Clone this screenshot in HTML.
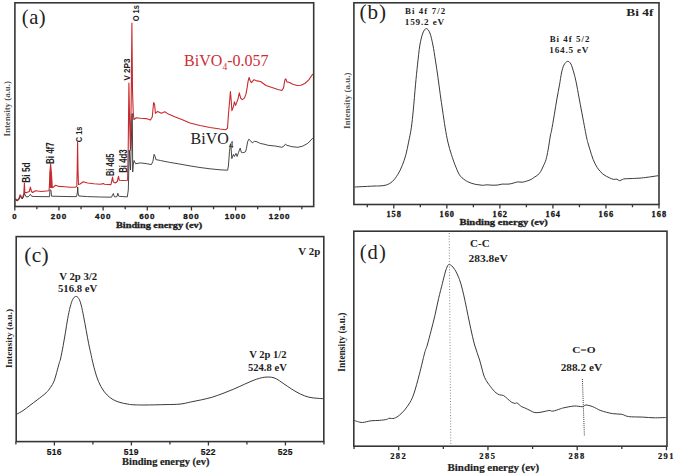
<!DOCTYPE html>
<html><head><meta charset="utf-8"><style>
html,body{margin:0;padding:0;background:#fff;width:675px;height:476px;overflow:hidden}
svg{display:block}
</style></head><body>
<svg width="675" height="476" viewBox="0 0 675 476">
<rect width="675" height="476" fill="#fff"/>
<rect x="14.9" y="2.8" width="298.8" height="203.7" fill="none" stroke="#363636" stroke-width="1.6"/>
<rect x="353.9" y="2.8" width="305.1" height="201.7" fill="none" stroke="#363636" stroke-width="1.6"/>
<rect x="16.2" y="236.6" width="307.6" height="205.00000000000003" fill="none" stroke="#363636" stroke-width="1.6"/>
<rect x="353.8" y="231.2" width="313.2" height="215.0" fill="none" stroke="#363636" stroke-width="1.6"/>
<path d="M14.80,206.5 v4.0 M58.96,206.5 v4.0 M103.12,206.5 v4.0 M147.28,206.5 v4.0 M191.44,206.5 v4.0 M235.60,206.5 v4.0 M279.76,206.5 v4.0 M36.88,206.5 v2.8 M81.04,206.5 v2.8 M125.20,206.5 v2.8 M169.36,206.5 v2.8 M213.52,206.5 v2.8 M257.68,206.5 v2.8 M301.84,206.5 v2.8 " stroke="#363636" stroke-width="1.3" fill="none"/>
<path d="M393.80,204.5 v4.0 M446.84,204.5 v4.0 M499.88,204.5 v4.0 M552.92,204.5 v4.0 M605.96,204.5 v4.0 M659.00,204.5 v4.0 M367.28,204.5 v2.8 M420.32,204.5 v2.8 M473.36,204.5 v2.8 M526.40,204.5 v2.8 M579.44,204.5 v2.8 M632.48,204.5 v2.8 " stroke="#363636" stroke-width="1.3" fill="none"/>
<path d="M54.40,441.6 v4.0 M131.41,441.6 v4.0 M208.42,441.6 v4.0 M285.43,441.6 v4.0 M15.89,441.6 v2.8 M92.91,441.6 v2.8 M169.92,441.6 v2.8 M246.93,441.6 v2.8 M323.94,441.6 v2.8 " stroke="#363636" stroke-width="1.3" fill="none"/>
<path d="M398.70,446.2 v4.0 M487.95,446.2 v4.0 M577.20,446.2 v4.0 M666.45,446.2 v4.0 M354.07,446.2 v2.8 M443.32,446.2 v2.8 M532.58,446.2 v2.8 M621.83,446.2 v2.8 " stroke="#363636" stroke-width="1.3" fill="none"/>
<path d="M354.50,187.00 C356.25,186.92 361.58,186.67 365.00,186.50 C368.42,186.33 372.50,186.10 375.00,186.00 C377.50,185.90 378.12,186.07 380.00,185.90 C381.88,185.73 384.22,185.75 386.30,185.00 C388.38,184.25 390.57,183.18 392.50,181.40 C394.43,179.62 396.27,176.97 397.90,174.30 C399.53,171.63 400.97,168.68 402.30,165.40 C403.63,162.12 404.85,158.48 405.90,154.60 C406.95,150.72 407.70,146.55 408.60,142.10 C409.50,137.65 410.52,133.25 411.30,127.90 C412.08,122.55 412.60,117.18 413.30,110.00 C414.00,102.82 414.80,92.32 415.50,84.80 C416.20,77.28 416.77,71.53 417.50,64.90 C418.23,58.27 419.00,50.32 419.90,45.00 C420.80,39.68 421.83,35.73 422.90,33.00 C423.97,30.27 425.13,28.60 426.30,28.60 C427.47,28.60 428.80,30.27 429.90,33.00 C431.00,35.73 431.97,40.35 432.90,45.00 C433.83,49.65 434.67,55.58 435.50,60.90 C436.33,66.22 437.10,71.25 437.90,76.90 C438.70,82.55 439.53,89.28 440.30,94.80 C441.07,100.32 441.68,104.48 442.50,110.00 C443.32,115.52 444.30,122.55 445.20,127.90 C446.10,133.25 446.87,137.65 447.90,142.10 C448.93,146.55 450.07,150.43 451.40,154.60 C452.73,158.77 454.40,163.52 455.90,167.10 C457.40,170.68 458.47,173.68 460.40,176.10 C462.33,178.52 465.17,180.27 467.50,181.60 C469.83,182.93 472.50,183.57 474.40,184.10 C476.30,184.63 477.42,184.60 478.90,184.80 C480.38,185.00 482.00,185.30 483.30,185.30 C484.60,185.30 485.22,184.82 486.70,184.80 C488.18,184.78 490.35,185.17 492.20,185.20 C494.05,185.23 496.13,185.18 497.80,185.00 C499.47,184.82 500.35,184.25 502.20,184.10 C504.05,183.95 506.87,184.32 508.90,184.10 C510.93,183.88 512.92,183.17 514.40,182.80 C515.88,182.43 516.50,182.00 517.80,181.90 C519.10,181.80 520.72,182.33 522.20,182.20 C523.68,182.07 525.22,181.57 526.70,181.10 C528.18,180.63 529.82,180.05 531.10,179.40 C532.38,178.75 533.28,177.93 534.40,177.20 C535.52,176.47 536.77,175.92 537.80,175.00 C538.83,174.08 539.68,173.18 540.60,171.70 C541.52,170.22 542.40,168.12 543.30,166.10 C544.20,164.08 545.20,162.32 546.00,159.60 C546.80,156.88 547.35,153.90 548.10,149.80 C548.85,145.70 549.93,138.17 550.50,135.00 C551.07,131.83 550.87,134.17 551.50,130.80 C552.13,127.43 553.40,120.12 554.30,114.80 C555.20,109.48 556.03,103.88 556.90,98.90 C557.77,93.92 558.73,89.22 559.50,84.90 C560.27,80.58 560.77,76.32 561.50,73.00 C562.23,69.68 562.90,66.93 563.90,65.00 C564.90,63.07 566.33,61.57 567.50,61.40 C568.67,61.23 569.83,62.07 570.90,64.00 C571.97,65.93 573.00,69.85 573.90,73.00 C574.80,76.15 575.47,78.92 576.30,82.90 C577.13,86.88 577.97,91.90 578.90,96.90 C579.83,101.90 580.90,107.58 581.90,112.90 C582.90,118.22 584.10,124.62 584.90,128.80 C585.70,132.98 586.20,135.67 586.70,138.00 C587.20,140.33 587.35,140.83 587.90,142.80 C588.45,144.77 589.12,147.00 590.00,149.80 C590.88,152.60 591.98,156.62 593.20,159.60 C594.42,162.58 595.67,165.27 597.30,167.70 C598.93,170.13 600.97,172.52 603.00,174.20 C605.03,175.88 607.73,176.93 609.50,177.80 C611.27,178.67 612.37,179.18 613.60,179.40 C614.83,179.62 615.95,178.88 616.90,179.10 C617.85,179.32 618.35,180.65 619.30,180.70 C620.25,180.75 621.65,179.72 622.60,179.40 C623.55,179.08 621.90,179.03 625.00,178.80 C628.10,178.57 635.67,178.52 641.20,178.00 C646.73,177.48 655.37,176.08 658.20,175.70" fill="none" stroke="#3a3a3a" stroke-width="1.0"/>
<path d="M16.70,414.20 C17.73,413.62 20.68,412.18 22.90,410.70 C25.12,409.22 27.63,407.08 30.00,405.30 C32.37,403.52 34.43,402.07 37.10,400.00 C39.77,397.93 43.78,394.97 46.00,392.90 C48.22,390.83 49.07,389.53 50.40,387.60 C51.73,385.67 52.95,383.83 54.00,381.30 C55.05,378.77 55.82,375.50 56.70,372.40 C57.58,369.30 58.67,364.93 59.30,362.70 C59.93,360.47 59.85,361.87 60.50,359.00 C61.15,356.13 62.37,349.98 63.20,345.50 C64.03,341.02 64.75,336.58 65.50,332.10 C66.25,327.62 66.92,322.82 67.70,318.60 C68.48,314.38 69.35,310.02 70.20,306.80 C71.05,303.58 71.87,301.03 72.80,299.30 C73.73,297.57 74.82,296.55 75.80,296.40 C76.78,296.25 77.80,296.95 78.70,298.40 C79.60,299.85 80.37,302.02 81.20,305.10 C82.03,308.18 82.87,312.68 83.70,316.90 C84.53,321.12 85.37,325.92 86.20,330.40 C87.03,334.88 87.85,339.60 88.70,343.80 C89.55,348.00 90.72,352.90 91.30,355.60 C91.88,358.30 91.60,357.48 92.20,360.00 C92.80,362.52 93.87,367.15 94.90,370.70 C95.93,374.25 96.92,377.90 98.40,381.30 C99.88,384.70 101.72,388.28 103.80,391.10 C105.88,393.92 108.38,396.37 110.90,398.20 C113.42,400.03 116.08,401.12 118.90,402.10 C121.72,403.08 125.28,403.65 127.80,404.10 C130.32,404.55 131.13,404.65 134.00,404.80 C136.87,404.95 139.83,405.03 145.00,405.00 C150.17,404.97 159.17,404.75 165.00,404.60 C170.83,404.45 175.72,404.53 180.00,404.10 C184.28,403.67 187.12,402.72 190.70,402.00 C194.28,401.28 197.92,400.60 201.50,399.80 C205.08,399.00 208.62,398.27 212.20,397.20 C215.78,396.13 219.42,394.75 223.00,393.40 C226.58,392.05 230.13,390.62 233.70,389.10 C237.27,387.58 241.18,385.73 244.40,384.30 C247.62,382.87 250.48,381.50 253.00,380.50 C255.52,379.50 257.52,378.85 259.50,378.30 C261.48,377.75 262.93,377.38 264.90,377.20 C266.87,377.02 269.33,376.90 271.30,377.20 C273.27,377.50 274.73,377.98 276.70,379.00 C278.67,380.02 280.60,381.62 283.10,383.30 C285.60,384.98 288.83,387.32 291.70,389.10 C294.57,390.88 297.43,392.65 300.30,394.00 C303.17,395.35 306.03,396.48 308.90,397.20 C311.77,397.92 315.12,398.05 317.50,398.30 C319.88,398.55 322.25,398.63 323.20,398.70" fill="none" stroke="#3a3a3a" stroke-width="1.0"/>
<path d="M354.20,420.40 C354.73,420.58 356.00,421.15 357.40,421.50 C358.80,421.85 360.33,422.62 362.60,422.50 C364.87,422.38 368.20,421.15 371.00,420.80 C373.80,420.45 376.77,420.63 379.40,420.40 C382.03,420.17 385.22,419.75 386.80,419.40 C388.38,419.05 387.67,418.48 388.90,418.30 C390.13,418.12 392.45,418.82 394.20,418.30 C395.95,417.78 397.65,416.60 399.40,415.20 C401.15,413.80 402.95,412.02 404.70,409.90 C406.45,407.78 408.33,405.30 409.90,402.50 C411.47,399.70 412.52,397.82 414.10,393.10 C415.68,388.38 417.65,380.87 419.40,374.20 C421.15,367.53 423.28,357.97 424.60,353.10 C425.92,348.23 426.22,348.73 427.30,345.00 C428.38,341.27 429.83,335.62 431.10,330.70 C432.37,325.78 433.65,320.87 434.90,315.50 C436.15,310.13 437.35,303.85 438.60,298.50 C439.85,293.15 441.28,287.82 442.40,283.40 C443.52,278.98 444.45,274.90 445.30,272.00 C446.15,269.10 446.87,267.25 447.50,266.00 C448.13,264.75 448.37,264.50 449.10,264.50 C449.83,264.50 450.80,264.90 451.90,266.00 C453.00,267.10 454.43,268.83 455.70,271.10 C456.97,273.37 458.40,276.60 459.50,279.60 C460.60,282.60 461.37,285.48 462.30,289.10 C463.23,292.72 464.15,296.90 465.10,301.30 C466.05,305.70 467.05,310.92 468.00,315.50 C468.95,320.08 469.70,323.88 470.80,328.80 C471.90,333.72 473.13,339.80 474.60,345.00 C476.07,350.20 478.08,355.00 479.60,360.00 C481.12,365.00 482.45,371.35 483.70,375.00 C484.95,378.65 485.97,379.97 487.10,381.90 C488.23,383.83 489.48,385.25 490.50,386.60 C491.52,387.95 492.28,388.97 493.20,390.00 C494.12,391.03 494.97,392.00 496.00,392.80 C497.03,393.60 498.15,394.35 499.40,394.80 C500.65,395.25 502.13,394.82 503.50,395.50 C504.87,396.18 506.23,397.77 507.60,398.90 C508.97,400.03 510.45,401.55 511.70,402.30 C512.95,403.05 514.20,403.28 515.10,403.40 C516.00,403.52 516.08,402.50 517.10,403.00 C518.12,403.50 519.95,405.60 521.20,406.40 C522.45,407.20 523.12,407.12 524.60,407.80 C526.08,408.48 528.38,409.70 530.10,410.50 C531.82,411.30 533.08,412.32 534.90,412.60 C536.72,412.88 538.62,412.55 541.00,412.20 C543.38,411.85 547.25,410.67 549.20,410.50 C551.15,410.33 550.87,411.47 552.70,411.20 C554.53,410.93 558.33,409.47 560.20,408.90 C562.07,408.33 561.55,408.28 563.90,407.80 C566.25,407.32 571.22,406.18 574.30,406.00 C577.38,405.82 580.47,406.87 582.40,406.70 C584.33,406.53 584.17,405.00 585.90,405.00 C587.63,405.00 590.30,405.77 592.80,406.70 C595.30,407.63 597.63,409.45 600.90,410.60 C604.17,411.75 608.93,412.98 612.40,413.60 C615.87,414.22 619.00,413.80 621.70,414.30 C624.40,414.80 625.13,416.13 628.60,416.60 C632.07,417.07 638.27,416.90 642.50,417.10 C646.73,417.30 650.00,417.73 654.00,417.80 C658.00,417.87 664.42,417.55 666.50,417.50" fill="none" stroke="#3a3a3a" stroke-width="1.0"/>
<line x1="449.2" y1="233" x2="450.8" y2="444" stroke="#777" stroke-width="0.9" stroke-dasharray="1,1.8"/>
<line x1="582.4" y1="379" x2="584.4" y2="436" stroke="#333" stroke-width="1" stroke-dasharray="1,1.1"/>
<path d="M15.30,198.50 L17.10,200.40 L19.00,198.50 L20.10,194.70 L21.20,196.30 L22.30,198.50 L23.80,193.80 L24.40,183.10 L24.90,192.60 L26.70,192.60 L29.30,191.50 L30.40,187.10 L31.50,191.50 L32.60,192.50 L35.50,190.80 L41.40,191.50 L49.00,190.80 L49.40,186.00 L49.90,172.00 L50.60,164.00 L51.30,172.00 L52.20,187.70 L53.50,187.00 L55.60,185.30 L58.90,186.40 L65.00,186.70 L70.00,187.20 L75.00,187.20 L76.80,186.50 L77.20,170.00 L77.60,142.00 L78.00,170.00 L78.50,184.50 L80.00,184.00 L83.20,181.70 L87.60,183.00 L93.90,183.80 L100.20,184.30 L103.30,183.60 L104.50,184.30 L110.90,184.60 L112.00,180.00 L112.50,177.10 L113.40,182.10 L115.30,183.00 L117.30,181.50 L118.50,176.40 L119.30,180.20 L122.90,180.50 L127.60,180.20 L128.20,150.00 L128.90,83.00 L129.60,120.00 L130.40,150.00 L131.20,100.00 L131.90,23.00 L132.50,90.00 L133.20,112.00 L133.90,119.50 L136.30,117.70 L140.70,118.20 L146.10,118.60 L150.50,120.00 L152.30,116.80 L153.60,102.50 L154.60,104.30 L155.40,113.20 L157.70,111.40 L161.30,113.20 L164.80,111.80 L168.40,114.10 L174.60,116.80 L181.80,119.50 L190.00,123.00 L200.00,125.50 L210.00,127.50 L220.00,129.00 L226.00,129.70 L227.50,128.20 L228.50,113.50 L229.70,100.30 L230.40,91.50 L231.20,100.30 L231.90,110.60 L233.40,106.90 L234.40,101.80 L235.60,105.40 L237.80,99.60 L239.30,92.90 L240.70,98.10 L242.20,99.60 L244.40,98.10 L245.90,94.40 L247.10,87.80 L248.10,81.20 L249.10,77.50 L250.30,81.20 L251.50,82.60 L254.00,79.70 L256.90,80.90 L260.60,81.50 L266.00,85.50 L272.00,87.50 L277.90,89.50 L281.90,90.50 L283.50,87.90 L284.90,79.90 L285.90,78.90 L286.90,81.90 L288.90,82.30 L292.90,84.30 L296.90,85.50 L300.90,85.30 L304.80,83.50 L308.80,79.90 L312.80,74.00" fill="none" stroke="#c82a2e" stroke-width="1.1" stroke-linejoin="round"/>
<path d="M15.30,199.50 L17.10,201.00 L19.00,199.50 L20.10,196.50 L21.20,197.50 L22.30,199.00 L23.80,196.00 L24.40,193.40 L26.00,196.70 L28.20,196.90 L30.40,194.30 L31.70,196.30 L34.10,196.50 L49.50,196.70 L50.00,190.00 L50.50,189.70 L51.00,190.50 L51.50,196.20 L60.00,196.40 L70.00,196.60 L76.50,196.60 L77.30,193.00 L77.70,187.00 L78.10,193.00 L78.80,196.00 L87.60,196.60 L100.20,197.00 L111.50,197.20 L112.50,195.00 L113.40,193.50 L114.20,196.50 L115.30,196.90 L117.00,196.60 L117.80,193.20 L118.60,196.00 L119.10,196.30 L127.30,196.90 L128.30,190.00 L129.30,150.00 L130.50,170.00 L131.40,140.00 L131.90,118.00 L132.20,113.50 L132.50,140.00 L132.70,172.00 L133.20,165.00 L134.00,160.50 L135.60,163.70 L140.70,162.90 L146.10,163.60 L151.40,164.60 L152.90,161.40 L154.10,154.30 L155.00,156.10 L155.90,159.60 L160.40,160.50 L169.30,162.30 L180.00,164.10 L190.00,165.90 L200.00,167.50 L210.00,168.80 L220.00,169.80 L227.60,170.20 L228.40,166.00 L229.50,151.30 L230.20,146.00 L230.80,143.90 L231.80,158.60 L233.40,154.40 L234.40,156.50 L236.00,153.40 L237.10,156.50 L238.60,152.30 L240.20,148.10 L241.30,152.30 L242.80,152.80 L245.50,151.80 L246.50,148.10 L247.60,141.80 L248.80,139.20 L250.70,140.80 L252.30,142.90 L254.40,141.30 L257.00,141.80 L260.20,143.40 L265.00,144.40 L268.00,145.30 L275.90,146.10 L281.90,147.30 L283.90,146.10 L285.50,144.10 L286.90,145.30 L291.90,146.70 L297.90,147.30 L302.80,146.10 L307.80,143.30 L312.80,138.10" fill="none" stroke="#333" stroke-width="0.9" stroke-linejoin="round"/>
<path d="M49.5,188 L49.8,171.6 L52.0,171.6 L52.3,188 Z" fill="#c82a2e"/>
<text transform="translate(21.77,24.08)" font-family="'Liberation Serif', serif" font-weight="normal" font-size="20.556" fill="#222" letter-spacing="0.517">(a)</text>
<text transform="translate(184.12,65.61) scale(1.0047,1)" font-family="'Liberation Serif', serif" font-weight="normal" font-size="15.956" fill="#cc3036">BiVO<tspan font-size="0.6em" dy="0.42em">4</tspan><tspan dy="-0.252em">-0.057</tspan></text>
<text transform="translate(190.52,143.71) scale(0.9355,1)" font-family="'Liberation Serif', serif" font-weight="normal" font-size="17.143" fill="#222">BiVO<tspan font-size="0.6em" dy="0.42em">4</tspan></text>
<text transform="translate(9.76,136.51) rotate(-90) scale(0.9631,1)" font-family="'Liberation Serif', serif" font-weight="bold" font-size="9.222" fill="#555">Intensity (a.u.)</text>
<text transform="translate(116.00,227.98) scale(1.3568,1)" font-family="'Liberation Serif', serif" font-weight="bold" font-size="7.582" fill="#222" stroke="#222" stroke-width="0.300" paint-order="stroke">Binding energy (ev)</text>
<text transform="translate(30.10,182.64) rotate(-90) scale(0.8063,1)" font-family="'Liberation Sans', sans-serif" font-weight="bold" font-size="10.340" fill="#222">Bi 5d</text>
<text transform="translate(54.00,164.12) rotate(-90) scale(0.7370,1)" font-family="'Liberation Sans', sans-serif" font-weight="bold" font-size="10.897" fill="#222">Bi 4f7</text>
<text transform="translate(81.70,142.30) rotate(-90) scale(0.7545,1)" font-family="'Liberation Sans', sans-serif" font-weight="bold" font-size="9.859" fill="#222">C 1s</text>
<text transform="translate(113.70,176.09) rotate(-90) scale(0.7245,1)" font-family="'Liberation Sans', sans-serif" font-weight="bold" font-size="10.340" fill="#222">Bi 4d5</text>
<text transform="translate(127.10,172.81) rotate(-90) scale(0.7671,1)" font-family="'Liberation Sans', sans-serif" font-weight="bold" font-size="10.204" fill="#222">Bi 4d3</text>
<text transform="translate(129.90,80.58) rotate(-90) scale(0.8228,1)" font-family="'Liberation Sans', sans-serif" font-weight="bold" font-size="9.859" fill="#222">V 2P3</text>
<text transform="translate(139.40,21.30) rotate(-90) scale(0.7699,1)" font-family="'Liberation Sans', sans-serif" font-weight="bold" font-size="9.718" fill="#222">O 1s</text>
<text transform="translate(359.55,18.57)" font-family="'Liberation Serif', serif" font-weight="normal" font-size="21.111" fill="#222" letter-spacing="0.903">(b)</text>
<text transform="translate(626.30,16.10) scale(1.2491,1)" font-family="'Liberation Serif', serif" font-weight="bold" font-size="10.714" fill="#222">Bi 4f</text>
<text transform="translate(405.07,13.81)" font-family="'Liberation Serif', serif" font-weight="bold" font-size="8.873" fill="#222" letter-spacing="1.068">Bi 4f 7/2</text>
<text transform="translate(404.77,25.16)" font-family="'Liberation Serif', serif" font-weight="bold" font-size="9.185" fill="#222" letter-spacing="0.823">159.2 eV</text>
<text transform="translate(549.67,41.81)" font-family="'Liberation Serif', serif" font-weight="bold" font-size="8.873" fill="#222" letter-spacing="1.030">Bi 4f 5/2</text>
<text transform="translate(549.27,53.16)" font-family="'Liberation Serif', serif" font-weight="bold" font-size="9.185" fill="#222" letter-spacing="0.795">164.5 eV</text>
<text transform="translate(349.95,128.92) rotate(-90) scale(1.0833,1)" font-family="'Liberation Serif', serif" font-weight="bold" font-size="8.333" fill="#555">Intensity (a.u.)</text>
<text transform="translate(459.39,224.59) scale(1.2471,1)" font-family="'Liberation Serif', serif" font-weight="bold" font-size="8.462" fill="#222" stroke="#222" stroke-width="0.300" paint-order="stroke">Binding energy (ev)</text>
<text transform="translate(24.14,261.80)" font-family="'Liberation Serif', serif" font-weight="normal" font-size="21.444" fill="#222" letter-spacing="0.413">(c)</text>
<text transform="translate(298.29,254.67) scale(1.1308,1)" font-family="'Liberation Serif', serif" font-weight="bold" font-size="9.655" fill="#222">V 2p</text>
<text transform="translate(59.19,279.85) scale(1.0984,1)" font-family="'Liberation Serif', serif" font-weight="bold" font-size="9.770" fill="#222">V 2p 3/2</text>
<text transform="translate(57.97,291.66) scale(1.1374,1)" font-family="'Liberation Serif', serif" font-weight="bold" font-size="9.412" fill="#222">516.8 eV</text>
<text transform="translate(249.19,358.35) scale(1.0837,1)" font-family="'Liberation Serif', serif" font-weight="bold" font-size="9.770" fill="#222">V 2p 1/2</text>
<text transform="translate(247.98,370.85) scale(1.0916,1)" font-family="'Liberation Serif', serif" font-weight="bold" font-size="9.706" fill="#222">524.8 eV</text>
<text transform="translate(11.76,367.93) rotate(-90) scale(1.0783,1)" font-family="'Liberation Serif', serif" font-weight="bold" font-size="8.778" fill="#222">Intensity (a.u.)</text>
<text transform="translate(122.04,465.42) scale(1.1026,1)" font-family="'Liberation Serif', serif" font-weight="bold" font-size="9.451" fill="#222" stroke="#222" stroke-width="0.200" paint-order="stroke">Binding energy (ev)</text>
<text transform="translate(359.77,258.98)" font-family="'Liberation Serif', serif" font-weight="normal" font-size="20.556" fill="#222" letter-spacing="1.001">(d)</text>
<text transform="translate(470.05,247.10) scale(1.0868,1)" font-family="'Liberation Serif', serif" font-weight="bold" font-size="10.149" fill="#222">C-C</text>
<text transform="translate(468.54,262.44) scale(1.0986,1)" font-family="'Liberation Serif', serif" font-weight="bold" font-size="10.441" fill="#222">283.8eV</text>
<text transform="translate(572.13,353.41) scale(1.2288,1)" font-family="'Liberation Serif', serif" font-weight="bold" font-size="9.254" fill="#222">C=O</text>
<text transform="translate(560.65,370.66) scale(1.2021,1)" font-family="'Liberation Serif', serif" font-weight="bold" font-size="9.412" fill="#222">288.2 eV</text>
<text transform="translate(344.72,371.73) rotate(-90) scale(1.0039,1)" font-family="'Liberation Serif', serif" font-weight="bold" font-size="9.444" fill="#222">Intensity (a.u.)</text>
<text transform="translate(447.54,471.28) scale(1.0367,1)" font-family="'Liberation Serif', serif" font-weight="bold" font-size="10.549" fill="#222" stroke="#222" stroke-width="0.200" paint-order="stroke">Binding energy (ev)</text>
<text transform="translate(12.17,219.37) scale(0.9740,1)" font-family="'Liberation Sans', sans-serif" font-weight="bold" font-size="8.028" fill="#111" stroke="#111" stroke-width="0.300" paint-order="stroke">0</text>
<text transform="translate(50.87,219.37)" font-family="'Liberation Sans', sans-serif" font-weight="bold" font-size="8.028" fill="#111" stroke="#111" stroke-width="0.300" paint-order="stroke" letter-spacing="0.948">200</text>
<text transform="translate(95.11,219.37)" font-family="'Liberation Sans', sans-serif" font-weight="bold" font-size="8.028" fill="#111" stroke="#111" stroke-width="0.300" paint-order="stroke" letter-spacing="0.952">400</text>
<text transform="translate(139.19,219.37)" font-family="'Liberation Sans', sans-serif" font-weight="bold" font-size="8.028" fill="#111" stroke="#111" stroke-width="0.300" paint-order="stroke" letter-spacing="0.948">600</text>
<text transform="translate(183.37,219.37)" font-family="'Liberation Sans', sans-serif" font-weight="bold" font-size="8.028" fill="#111" stroke="#111" stroke-width="0.300" paint-order="stroke" letter-spacing="0.949">800</text>
<text transform="translate(224.67,219.37)" font-family="'Liberation Sans', sans-serif" font-weight="bold" font-size="8.028" fill="#111" stroke="#111" stroke-width="0.300" paint-order="stroke" letter-spacing="0.959">1000</text>
<text transform="translate(268.83,219.37)" font-family="'Liberation Sans', sans-serif" font-weight="bold" font-size="8.028" fill="#111" stroke="#111" stroke-width="0.300" paint-order="stroke" letter-spacing="0.959">1200</text>
<text transform="translate(386.39,216.67)" font-family="'Liberation Serif', serif" font-weight="bold" font-size="8.296" fill="#111" stroke="#111" stroke-width="0.300" paint-order="stroke" letter-spacing="1.055">158</text>
<text transform="translate(439.45,216.67)" font-family="'Liberation Serif', serif" font-weight="bold" font-size="8.296" fill="#111" stroke="#111" stroke-width="0.300" paint-order="stroke" letter-spacing="1.054">160</text>
<text transform="translate(492.51,216.67)" font-family="'Liberation Serif', serif" font-weight="bold" font-size="8.358" fill="#111" stroke="#111" stroke-width="0.300" paint-order="stroke" letter-spacing="1.010">162</text>
<text transform="translate(545.44,216.67)" font-family="'Liberation Serif', serif" font-weight="bold" font-size="8.358" fill="#111" stroke="#111" stroke-width="0.300" paint-order="stroke" letter-spacing="1.015">164</text>
<text transform="translate(598.52,216.67)" font-family="'Liberation Serif', serif" font-weight="bold" font-size="8.358" fill="#111" stroke="#111" stroke-width="0.300" paint-order="stroke" letter-spacing="1.013">166</text>
<text transform="translate(651.59,216.67)" font-family="'Liberation Serif', serif" font-weight="bold" font-size="8.296" fill="#111" stroke="#111" stroke-width="0.300" paint-order="stroke" letter-spacing="1.055">168</text>
<text transform="translate(46.82,454.74)" font-family="'Liberation Sans', sans-serif" font-weight="bold" font-size="8.521" fill="#111" stroke="#111" stroke-width="0.150" paint-order="stroke" letter-spacing="0.208">516</text>
<text transform="translate(123.83,454.74)" font-family="'Liberation Sans', sans-serif" font-weight="bold" font-size="8.521" fill="#111" stroke="#111" stroke-width="0.150" paint-order="stroke" letter-spacing="0.208">519</text>
<text transform="translate(200.84,454.74)" font-family="'Liberation Sans', sans-serif" font-weight="bold" font-size="8.521" fill="#111" stroke="#111" stroke-width="0.150" paint-order="stroke" letter-spacing="0.208">522</text>
<text transform="translate(277.81,454.74)" font-family="'Liberation Sans', sans-serif" font-weight="bold" font-size="8.521" fill="#111" stroke="#111" stroke-width="0.150" paint-order="stroke" letter-spacing="0.209">525</text>
<text transform="translate(390.16,458.72)" font-family="'Liberation Serif', serif" font-weight="bold" font-size="8.444" fill="#111" stroke="#111" stroke-width="0.200" paint-order="stroke" letter-spacing="1.426">282</text>
<text transform="translate(479.37,458.72)" font-family="'Liberation Serif', serif" font-weight="bold" font-size="8.444" fill="#111" stroke="#111" stroke-width="0.200" paint-order="stroke" letter-spacing="1.427">285</text>
<text transform="translate(568.62,458.72)" font-family="'Liberation Serif', serif" font-weight="bold" font-size="8.444" fill="#111" stroke="#111" stroke-width="0.200" paint-order="stroke" letter-spacing="1.427">288</text>
<text transform="translate(657.93,458.71)" font-family="'Liberation Serif', serif" font-weight="bold" font-size="8.507" fill="#111" stroke="#111" stroke-width="0.200" paint-order="stroke" letter-spacing="1.380">291</text>
</svg>
</body></html>
